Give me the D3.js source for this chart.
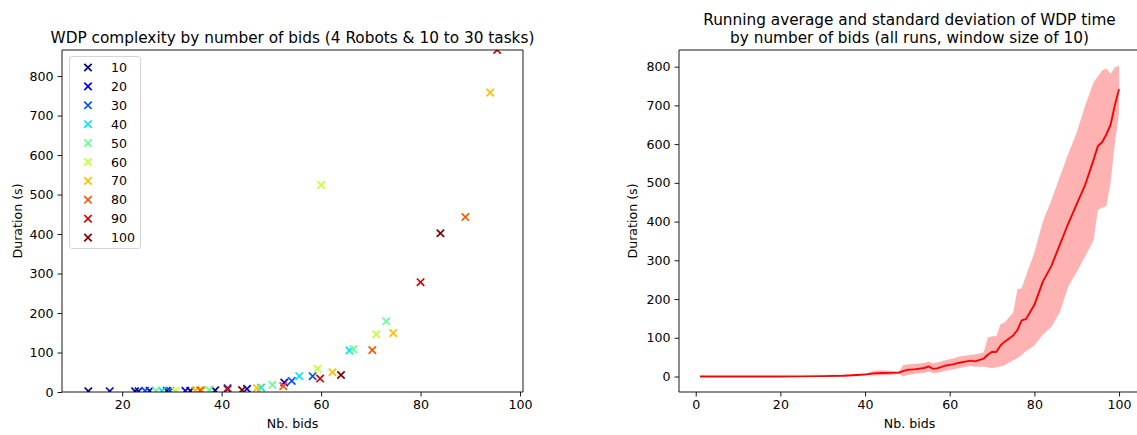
<!DOCTYPE html>
<html>
<head>
<meta charset="utf-8">
<script src="https://cdn.jsdelivr.net/npm/d3@7"></script>
<style>
  body { margin: 0; background: #fff; }
  svg { display: block; font-family: "DejaVu Sans", sans-serif; }
</style>
</head>
<body>
<div id="chart"></div>
<script>
// ---- data ----
var seriesLabels = ["10", "20", "30", "40", "50", "60", "70", "80", "90", "100"];
var seriesColors = ["#00007f", "#0000f5", "#0050ff", "#00e4f8", "#66ff94", "#c2ff36", "#ffc000", "#ff5500", "#d80000", "#7f0000"];

// scatter: number of bids / duration for each series
var bids10 = [13.2, 22.6, 29, 33.7, 38.7];
var dur10 = [2, 2, 3, 3, 4];
var bids20 = [17.5, 23.3, 25.5, 32.7, 45.1, 52.6];
var dur20 = [2, 2, 3, 3, 8, 24];
var bids30 = [24.6, 29.6, 41.2, 54.1, 58.3];
var dur30 = [3, 3, 10, 28, 40];
var bids40 = [28, 47.9, 55.6, 65.7];
var dur40 = [3, 11, 40, 105];
var bids50 = [26.8, 37.5, 50.2, 66.5, 73.1];
var dur50 = [3, 5, 18, 108, 179];
var bids60 = [30.7, 59.3, 60.0, 71.1];
var dur60 = [3, 59, 524, 146];
var bids70 = [34.7, 36, 47.1, 62.3, 74.5, 94.0];
var dur70 = [4, 4, 10, 50, 149, 758];
var bids80 = [35.7, 52.4, 70.3, 89.0];
var dur80 = [4, 15, 106, 443];
var bids90 = [41.2, 59.8, 80.0, 95.4];
var dur90 = [7, 34, 278, 866];
var bids100 = [44.1, 64.0, 84.0];
var dur100 = [5, 43, 402];

var allBids = [bids10, bids20, bids30, bids40, bids50, bids60, bids70, bids80, bids90, bids100];
var allDur = [dur10, dur20, dur30, dur40, dur50, dur60, dur70, dur80, dur90, dur100];

// running average (window 10) and +/- std band
var avgX =    [1, 10, 20, 25, 30, 35, 40, 42, 44, 46, 48, 49, 50, 52, 54, 55, 56, 57, 59, 61, 62, 64, 65, 66, 68, 69, 70, 71, 72, 73, 75, 76, 77, 78, 80, 82, 84, 86, 88, 90, 92, 94, 95, 96, 97, 98, 99, 100];
var avgY =    [0, 0, 0, 0.3, 1, 2, 5, 8, 9, 9.5, 10, 14, 17, 19, 22, 26, 20, 21, 28, 32, 35, 39, 41, 39, 46, 56, 64, 63, 80, 90, 106, 120, 145, 148, 185, 245, 285, 340, 395, 445, 495, 560, 595, 605, 625, 650, 700, 742];
var bandHigh = [0, 0, 0, 0.5, 1.5, 3, 6, 15, 16, 15, 13, 29, 31, 33, 35, 39, 34, 36, 42, 47, 51, 54, 56, 57, 62, 100, 104, 104, 135, 140, 165, 225, 228, 260, 320, 400, 455, 515, 575, 630, 700, 760, 775, 790, 795, 782, 798, 803];
var bandLow =  [0, 0, 0, 0.1, 0.5, 1, 4, 2, 3, 4, 7, 0, 4, 7, 9, 13, 9, 9, 15, 19, 21, 25, 27, 25, 25, 23, 21, 24, 26, 29, 42, 47, 55, 65, 80, 108, 128, 165, 232, 270, 310, 352, 430, 436, 440, 500, 600, 680];

var leftTicksX = [20, 40, 60, 80, 100];
var leftTicksY = [0, 100, 200, 300, 400, 500, 600, 700, 800];
var rightTicksX = [0, 20, 40, 60, 80, 100];
var rightTicksY = [0, 100, 200, 300, 400, 500, 600, 700, 800];

// ---- drawing ----
var width = 1137, height = 435;
var tickFont = 12.6, titleFont = 15.3;
var svg = d3.select("#chart").append("svg")
	.attr("width", width)
	.attr("height", height);

function drawAxes(g, x, y, ticksX, ticksY, box) {
	var xAxis = d3.axisBottom(x).tickValues(ticksX).tickSizeOuter(0).tickSize(4.5).tickPadding(4);
	var yAxis = d3.axisLeft(y).tickValues(ticksY).tickSizeOuter(0).tickSize(4.5).tickPadding(4);
	var gx = g.append("g").attr("transform", "translate(0," + y.range()[0] + ")").call(xAxis);
	var gy = g.append("g").attr("transform", "translate(" + x.range()[0] + ",0)").call(yAxis);
	[gx, gy].forEach(function(a) {
		a.select(".domain").remove();
		a.selectAll(".tick line").attr("stroke", "#000").attr("stroke-width", 0.9);
		a.selectAll(".tick text").attr("fill", "#000").style("font-size", tickFont + "px").style("font-family", "DejaVu Sans");
	});
	// spines
	var x0 = x.range()[0], x1 = x.range()[1], y0 = y.range()[0], y1 = y.range()[1];
	var sp = g.append("g").attr("stroke", "#000").attr("stroke-width", 0.9).attr("fill", "none");
	sp.append("line").attr("x1", x0).attr("x2", x1).attr("y1", y0).attr("y2", y0);
	sp.append("line").attr("x1", x0).attr("x2", x1).attr("y1", y1).attr("y2", y1);
	sp.append("line").attr("x1", x0).attr("x2", x0).attr("y1", y0).attr("y2", y1);
	if (box) sp.append("line").attr("x1", x1).attr("x2", x1).attr("y1", y0).attr("y2", y1);
}

function label(g, txt, x, y, size, rot) {
	var t = g.append("text")
		.attr("text-anchor", "middle")
		.style("font-size", size + "px")
		.attr("fill", "#000")
		.text(txt);
	if (rot) t.attr("transform", "translate(" + x + "," + y + ") rotate(-90)");
	else t.attr("x", x).attr("y", y);
	return t;
}

var crossPath = "M-3.7,-3.7L3.7,3.7M-3.7,3.7L3.7,-3.7";

// left chart: scatter
var xL = d3.scaleLinear().domain([7.9, 100.6]).range([62, 523]);
var yL = d3.scaleLinear().domain([0, 866]).range([392, 50]);
var left = svg.append("g");

svg.append("clipPath").attr("id", "clipL")
	.append("rect").attr("x", 62).attr("y", 50).attr("width", 461).attr("height", 342);

var pts = left.append("g").attr("clip-path", "url(#clipL)");
allBids.forEach(function(bids, s) {
	pts.append("g")
		.selectAll("path")
		.data(bids.map(function(b, i) { return [b, allDur[s][i]]; }))
		.enter().append("path")
		.attr("d", crossPath)
		.attr("transform", d => "translate(" + xL(d[0]) + "," + yL(d[1]) + ")")
		.attr("stroke", seriesColors[s])
		.attr("stroke-width", 1.7)
		.attr("fill", "none");
});

drawAxes(left, xL, yL, leftTicksX, leftTicksY, true);
label(left, "WDP complexity by number of bids (4 Robots & 10 to 30 tasks)", 292.5, 43, titleFont);
label(left, "Nb. bids", 292.5, 428, tickFont);
label(left, "Duration (s)", 22, 221, tickFont, true);

// legend
var leg = left.append("g");
leg.append("rect")
	.attr("x", 69.5).attr("y", 56.5).attr("width", 71).attr("height", 192)
	.attr("rx", 2.5).attr("fill", "#fff").attr("fill-opacity", 0.8)
	.attr("stroke", "#d0d0d0").attr("stroke-width", 0.9);
seriesLabels.forEach(function(lab, i) {
	var yy = 67.5 + i * 18.9;
	leg.append("path").attr("d", crossPath)
		.attr("transform", "translate(88," + yy + ")")
		.attr("stroke", seriesColors[i]).attr("stroke-width", 1.7).attr("fill", "none");
	leg.append("text").attr("x", 111).attr("y", yy + 4.5)
		.style("font-size", tickFont + "px").attr("fill", "#000").text(lab);
});

// right chart: running average
var xR = d3.scaleLinear().domain([-3.95, 104.95]).range([679, 1140]);
var yR = d3.scaleLinear().domain([-40, 843]).range([392, 50]);
var right = svg.append("g");

var band = d3.area()
	.x((d, i) => xR(avgX[i]))
	.y0((d, i) => yR(bandLow[i]))
	.y1((d, i) => yR(bandHigh[i]));
right.append("path").datum(avgX).attr("d", band)
	.attr("fill", "#ff0000").attr("fill-opacity", 0.3).attr("stroke", "none");

var line = d3.line()
	.x((d, i) => xR(avgX[i]))
	.y((d, i) => yR(avgY[i]));
right.append("path").datum(avgX).attr("d", line)
	.attr("fill", "none").attr("stroke", "#ff0000").attr("stroke-width", 1.9)
	.attr("stroke-linejoin", "round");

drawAxes(right, xR, yR, rightTicksX, rightTicksY, false);
label(right, "Running average and standard deviation of WDP time", 909.5, 25, titleFont);
label(right, "by number of bids (all runs, window size of 10)", 909.5, 43, titleFont);
label(right, "Nb. bids", 909.5, 428, tickFont);
label(right, "Duration (s)", 637, 221, tickFont, true);
</script>
</body>
</html>
